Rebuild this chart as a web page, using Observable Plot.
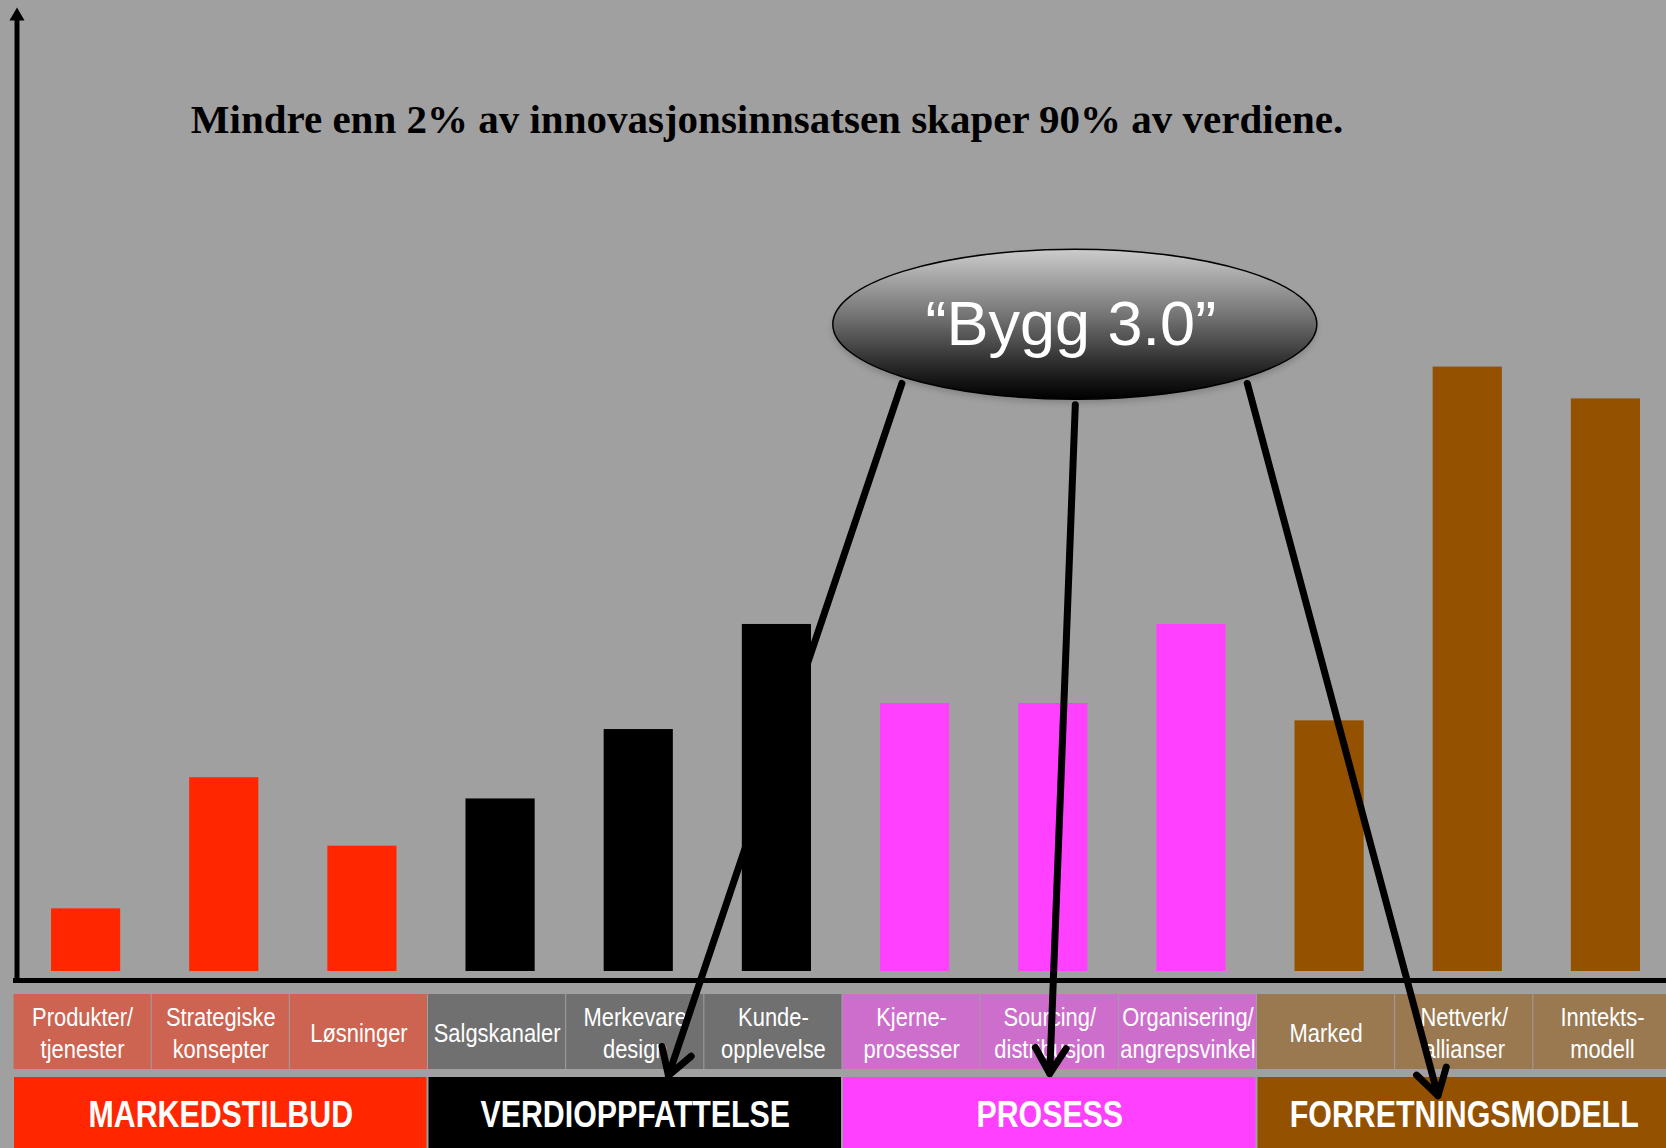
<!DOCTYPE html>
<html>
<head>
<meta charset="utf-8">
<script src="https://cdn.jsdelivr.net/npm/d3@7"></script>
<script src="https://cdn.jsdelivr.net/npm/@observablehq/plot@0.6"></script>
<style>
html, body { margin: 0; padding: 0; background: #a0a0a0; }
#wrap { position: relative; width: 1666px; height: 1148px; overflow: hidden; background: #a0a0a0; }
#wrap svg { position: absolute; left: 0; }
#title { position: absolute; left: 0; width: 1534px; top: 99px; text-align: center;
  font-family: "Liberation Serif", "DejaVu Serif", serif; font-weight: bold; font-size: 41px;
  line-height: 1; color: #000; white-space: nowrap; }
</style>
</head>
<body>
<div id="wrap"><div id="title"></div></div>
<script>
// ---- data ----
const tittel = "Mindre enn 2% av innovasjonsinnsatsen skaper 90% av verdiene.";
const kategorier = [
  "Produkter/\ntjenester", "Strategiske\nkonsepter", "Løsninger",
  "Salgskanaler", "Merkevare\ndesign", "Kunde-\nopplevelse",
  "Kjerne-\nprosesser", "Sourcing/\ndistribusjon", "Organisering/\nangrepsvinkel",
  "Marked", "Nettverk/\nallianser", "Inntekts-\nmodell"
];
const verdier = [6.5, 20.1, 13.0, 17.9, 25.1, 36.0, 27.8, 27.8, 36.0, 26.0, 62.7, 59.4];
const grupper = ["MARKEDSTILBUD", "VERDIOPPFATTELSE", "PROSESS", "FORRETNINGSMODELL"];
const kategoriGruppe = [
  "MARKEDSTILBUD", "MARKEDSTILBUD", "MARKEDSTILBUD",
  "VERDIOPPFATTELSE", "VERDIOPPFATTELSE", "VERDIOPPFATTELSE",
  "PROSESS", "PROSESS", "PROSESS",
  "FORRETNINGSMODELL", "FORRETNINGSMODELL", "FORRETNINGSMODELL"
];
const gruppeFarger = ["#ff2600", "#000000", "#ff40ff", "#945200"];
const kategoriFarger = ["#cd6451", "#707070", "#cd6ecd", "#9a7850"];

// annotation: label and arrows (in chart units: x = category index, y = value)
const etikett = "\u201CBygg 3.0\u201D";
const etikettPos = {x: 7.685, y: 67.1};
const piler = [
  {x1: 6.43, y1: 61.0, x2: 4.74, y2: -10.8},
  {x1: 7.685, y1: 58.8, x2: 7.50, y2: -10.6},
  {x1: 8.93, y1: 61.0, x2: 10.31, y2: -12.9}
];

// ---- layout ----
const W = 1666, H = 1148;
const xRange = [13, 1671];
const data = kategorier.map((k, i) => ({kategori: k, i, verdi: verdier[i], gruppe: kategoriGruppe[i]}));
const gruppeData = grupper.map((g, j) => {
  const idx = data.filter(d => d.gruppe === g).map(d => d.i);
  return {gruppe: g, rad: "gruppe", x1: d3.min(idx), x2: d3.max(idx) + 1, farge: gruppeFarger[j]};
});

document.getElementById("title").textContent = tittel;

function ellipseMark(index, scales) {
  const cx = scales.x(etikettPos.x), cy = scales.y(etikettPos.y);
  const g = d3.create("svg:g");
  const defs = g.append("defs");
  const grad = defs.append("linearGradient").attr("id", "bygg-grad")
    .attr("x1", 0).attr("y1", 0).attr("x2", 0).attr("y2", 1);
  grad.append("stop").attr("offset", "0%").attr("stop-color", "#cccccc");
  grad.append("stop").attr("offset", "45%").attr("stop-color", "#727272");
  grad.append("stop").attr("offset", "85%").attr("stop-color", "#1a1a1a");
  grad.append("stop").attr("offset", "100%").attr("stop-color", "#000000");
  const f = defs.append("filter").attr("id", "bygg-blur").attr("x", "-20%").attr("y", "-20%").attr("width", "140%").attr("height", "140%");
  f.append("feGaussianBlur").attr("stdDeviation", 3);
  g.append("ellipse").attr("cx", cx).attr("cy", cy + 4).attr("rx", 242).attr("ry", 75)
    .attr("fill", "rgba(0,0,0,0.18)").attr("filter", "url(#bygg-blur)");
  g.append("ellipse").attr("cx", cx).attr("cy", cy).attr("rx", 242).attr("ry", 75)
    .attr("fill", "url(#bygg-grad)").attr("stroke", "#000").attr("stroke-width", 1.5);
  g.append("text").attr("x", cx - 4).attr("y", cy + 21).attr("text-anchor", "middle")
    .attr("fill", "#fff").attr("font-family", "'Liberation Sans', Arial, sans-serif")
    .attr("font-size", 63).text(etikett);
  return g.node();
}

const sans = "'Liberation Sans', Arial, sans-serif";

const bottom = Plot.plot({
  width: W, height: 158, margin: 0,
  style: {background: "transparent", overflow: "visible"},
  x: {type: "linear", domain: [0, kategorier.length], range: xRange, axis: null},
  y: {type: "band", domain: ["kategori", "gruppe"], range: [4, 162], paddingInner: 0.0964, paddingOuter: 0, axis: null},
  color: {type: "identity"},
  marks: [
    Plot.barX(data, {x1: "i", x2: d => d.i + 1, y: () => "kategori",
      fill: d => kategoriFarger[grupper.indexOf(d.gruppe)], insetLeft: 0.5, insetRight: 0.5}),
    Plot.text(data, {x: d => d.i + 0.5, y: () => "kategori", text: "kategori", fill: "#ffffff",
      fontSize: 25.5, lineHeight: 1.255, fontFamily: sans, className: "narrow-sub"}),
    Plot.barX(gruppeData, {x1: "x1", x2: "x2", y: "rad", fill: "farge", insetLeft: 1, insetRight: 1}),
    Plot.text(gruppeData, {x: d => (d.x1 + d.x2) / 2, y: "rad", text: "gruppe", fill: "#ffffff",
      fontSize: 37, fontWeight: "bold", fontFamily: sans, className: "narrow-grp"})
  ]
});
bottom.style.top = "990px";
// condensed look (Arial Narrow-like): squeeze the label glyphs horizontally around their anchor
d3.select(bottom).selectAll("g.narrow-sub text").attr("transform", function() {
  return (this.getAttribute("transform") || "") + " scale(0.86,1)";
});
d3.select(bottom).selectAll("g.narrow-grp text").attr("transform", function() {
  return (this.getAttribute("transform") || "") + " scale(0.82,1)";
});

const main = Plot.plot({
  width: W, height: H, margin: 0,
  style: {background: "transparent", overflow: "visible"},
  x: {type: "linear", domain: [0, kategorier.length], range: xRange, axis: null},
  y: {domain: [0, 100], range: [971, 7], axis: null},
  color: {domain: grupper, range: gruppeFarger},
  marks: [
    Plot.rectY(data, {x1: "i", x2: d => d.i + 1, y: "verdi", fill: "gruppe", insetLeft: 38, insetRight: 31}),
    Plot.ruleY([0], {x1: 0, x2: kategorier.length, dy: 9, stroke: "#000", strokeWidth: 5}),
    Plot.ruleX([0], {y1: 0, y2: 100, dx: 3.5, stroke: "#000", strokeWidth: 5, insetBottom: -11.5, insetTop: 10}),
    Plot.dot([0], {x: 0, y: 100, dx: 3.5, dy: 8.7, symbol: "triangle", r: 5.6, fill: "#000", stroke: "none"}),
    Plot.arrow(piler, {x1: "x1", y1: "y1", x2: "x2", y2: "y2", stroke: "#000", strokeWidth: 7, headLength: 6.4, headAngle: 62}),
    ellipseMark
  ]
});
main.style.top = "0px";

const wrap = document.getElementById("wrap");
wrap.appendChild(bottom);
wrap.appendChild(main);
</script>
</body>
</html>
